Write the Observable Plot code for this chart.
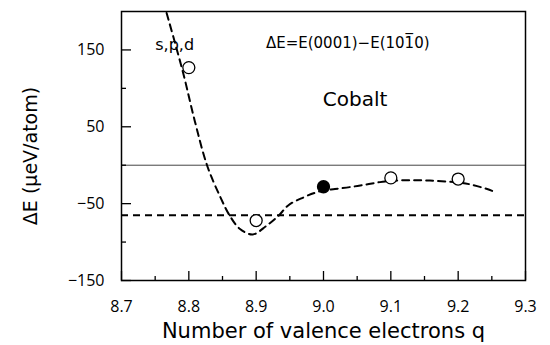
<!DOCTYPE html>
<html><head><meta charset="utf-8">
<script src="https://cdn.jsdelivr.net/npm/d3@7"></script>
<script src="https://cdn.jsdelivr.net/npm/@observablehq/plot@0.6"></script>
<style>body{margin:0;background:#fff}</style>
</head><body><div id="chart"></div>
<script>
// Calculated points
const pointQ = [8.8, 8.9, 9.0, 9.1, 9.2];
const pointE = [127, -72, -28, -16.5, -18];
const pointFilled = [false, false, true, false, false];

// Dashed fitted curve
const curveQ = [8.767, 8.791, 8.809, 8.827, 8.846, 8.861, 8.876, 8.895, 8.915, 8.933, 8.948, 8.970, 8.987, 9.0, 9.017, 9.039, 9.064, 9.084, 9.1, 9.124, 9.158, 9.2, 9.218, 9.243, 9.252];
const curveE = [198, 122, 57, 0, -40, -66, -83, -90, -79, -66, -52, -42, -36, -33, -31, -28.5, -25, -22, -20.5, -19.5, -20, -22.5, -25, -31, -34];

// Horizontal dashed reference level
const refLevel = [-65];

// Axes
const xMajorTicks = [8.7, 8.8, 8.9, 9.0, 9.1, 9.2, 9.3];
const xTickLabels = ["8.7", "8.8", "8.9", "9.0", "9.1", "9.2", "9.3"];
const xMinorTicks = [8.75, 8.85, 8.95, 9.05, 9.15, 9.25];
const yMajorTicks = [-150, -50, 50, 150];
const yTickLabels = ["\u2212150", "\u221250", "50", "150"];
const yMinorTicks = [-100, 0, 100];

const xLabel = "Number of valence electrons q";
const yLabel = "\u0394E (\u03bceV/atom)";

// Annotations (text, q, E)
const annText = ["s,p,d", "\u0394E=E(0001)\u2212E(101\u03050)", "Cobalt"];
const annQ = [8.779, 9.036, 9.047];
const annE = [157, 159, 86];

const points = pointQ.map((q, i) => ({q, e: pointE[i], filled: pointFilled[i]}));
const curve = curveQ.map((q, i) => ({q, e: curveE[i]}));
const ann = annText.map((t, i) => ({t, q: annQ[i], e: annE[i]}));

const W = 550, H = 345, mL = 121, mR = 25, mT = 11, mB = 65;
const iH = H - mT - mB, iW = W - mL - mR;
const FONT = "DejaVu Sans";

const chart = Plot.plot({
  width: W, height: H,
  marginLeft: mL, marginRight: mR, marginTop: mT, marginBottom: mB,
  style: {fontFamily: "Open Sans", color: "black", background: "white"},
  x: {domain: [8.7, 9.3]},
  y: {domain: [-150, 200]},
  marks: [
    Plot.ruleY([0], {stroke: "#444", strokeWidth: 1}),
    Plot.ruleY(refLevel, {stroke: "black", strokeWidth: 2, strokeDasharray: "7,5"}),
    Plot.line(curve, {x: "q", y: "e", curve: "catmull-rom", stroke: "black", strokeWidth: 2, strokeDasharray: "7,5"}),
    Plot.dot(points, {x: "q", y: "e", r: 6, stroke: "black", strokeWidth: 1.3, fill: d => d.filled ? "black" : "white"}),
    Plot.tickX(xMajorTicks, {x: d => d, insetTop: iH - 9, strokeWidth: 1.3}),
    Plot.tickX(xMinorTicks, {x: d => d, insetTop: iH - 4, strokeWidth: 1.3}),
    Plot.tickY(yMajorTicks, {y: d => d, insetRight: iW - 10, strokeWidth: 1.3}),
    Plot.tickY(yMinorTicks, {y: d => d, insetRight: iW - 5, strokeWidth: 1.3}),
    Plot.axisX(xMajorTicks, {tickSize: 0, tickPadding: 20, fontSize: 16, tickFormat: d => xTickLabels[xMajorTicks.indexOf(d)], label: null}),
    Plot.axisY(yMajorTicks, {tickSize: 0, tickPadding: 17, fontSize: 16, tickFormat: d => yTickLabels[yMajorTicks.indexOf(d)], label: null}),
    Plot.frame({stroke: "black", strokeWidth: 1.5}),
    Plot.text(ann.slice(0, 1), {x: "q", y: "e", text: "t", fontSize: 16, fontFamily: FONT, fill: "black"}),
    Plot.text(ann.slice(1, 2), {x: "q", y: "e", text: "t", fontSize: 15, fontFamily: FONT, fill: "black"}),
    Plot.text(ann.slice(2, 3), {x: "q", y: "e", text: "t", fontSize: 20, fontFamily: FONT, fill: "black"}),
    Plot.text([xLabel], {frameAnchor: "bottom", dy: 51, fontSize: 21, fontFamily: FONT, lineAnchor: "middle", textAnchor: "middle"}),
    Plot.text([yLabel], {frameAnchor: "left", rotate: -90, dx: -91, dy: 10, fontSize: 19, fontFamily: FONT, lineAnchor: "middle", textAnchor: "middle"})
  ]
});
document.getElementById("chart").append(chart);
</script>
</body></html>
